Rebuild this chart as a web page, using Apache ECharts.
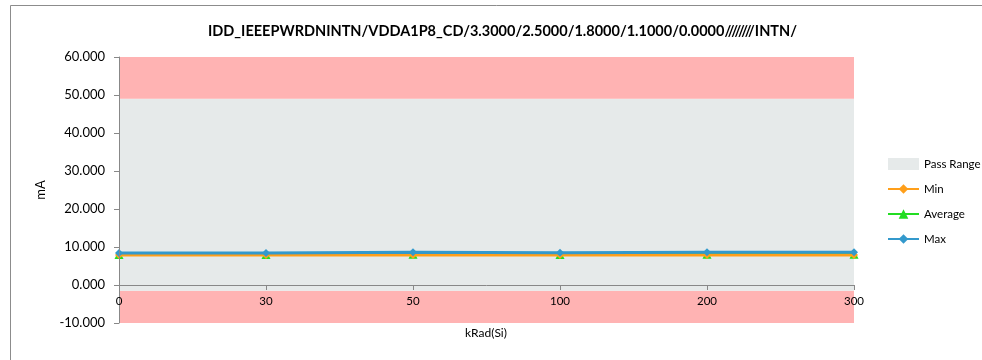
<!DOCTYPE html>
<html>
<head>
<meta charset="utf-8">
<script src="https://cdn.jsdelivr.net/npm/echarts@6/dist/echarts.min.js"></script>
<style>
  html, body { margin: 0; padding: 0; background: #fff; }
  #chart { width: 982px; height: 360px; }
</style>
</head>
<body>
<div id="chart"></div>
<script>
// Dose levels (kRad(Si)) and measured supply current (mA)
const categories = ['0', '30', '50', '100', '200', '300'];
const minValues = [7.9, 7.9, 7.9, 7.9, 7.9, 7.9];
const avgValues = [8.0, 8.0, 8.1, 8.0, 8.1, 8.1];
const maxValues = [8.4, 8.4, 8.6, 8.5, 8.6, 8.6];
// Pass limits and y-axis range
const passLow = -1.5;
const passHigh = 49.0;
const yMin = -10;
const yMax = 60;
const yStep = 10;

const titleText = 'IDD_IEEEPWRDNINTN/VDDA1P8_CD/3.3000/2.5000/1.8000/1.1000/0.0000////////INTN/';
const font = 'Lato, "Open Sans", sans-serif';

const chart = echarts.init(document.getElementById('chart'));

const lineSeries = (name, color, symbol, data, z) => ({
  name: name,
  type: 'line',
  data: data,
  symbol: symbol,
  symbolSize: symbol === 'triangle' ? 9 : 8,
  lineStyle: { color: color, width: 3 },
  itemStyle: { color: color },
  z: z
});

chart.setOption({
  animation: false,
  title: {
    text: titleText,
    left: 203,
    top: 19,
    padding: 5,
    textStyle: { fontFamily: font, fontSize: 14.5, fontWeight: 'bold', color: '#000' }
  },
  graphic: [
    {
      type: 'rect',
      shape: { x: 10.5, y: 5.5, width: 990, height: 400 },
      style: { fill: 'none', stroke: '#8c8c8c', lineWidth: 1 },
      silent: true
    },
    {
      type: 'text',
      left: 465,
      top: 327,
      style: { text: 'kRad(Si)', font: '12px ' + font, fill: '#000' }
    }
  ],
  legend: {
    orient: 'vertical',
    left: 887,
    top: 158,
    padding: 0,
    itemGap: 13,
    itemWidth: 31,
    itemHeight: 12,
    textStyle: { fontFamily: font, fontSize: 11.5, color: '#000' },
    data: [
      { name: 'Pass Range', icon: 'rect', itemStyle: { color: '#e6eaea' } },
      'Min', 'Average', 'Max'
    ]
  },
  grid: { left: 119, right: 128, top: 57, bottom: 37 },
  xAxis: [
    {
      // axis line and ticks crossing at zero
      type: 'category',
      data: categories,
      boundaryGap: false,
      z: 10,
      axisLine: { onZero: true, lineStyle: { color: '#888', width: 1 } },
      axisTick: { show: true, alignWithLabel: true, length: 5, lineStyle: { color: '#888' } },
      axisLabel: { show: false },
      splitLine: { show: false }
    },
    {
      // category labels just below the zero line
      type: 'category',
      data: categories,
      boundaryGap: false,
      position: 'bottom',
      z: 10,
      axisLine: { show: false, onZero: false },
      axisTick: { show: false },
      axisLabel: { fontFamily: font, fontSize: 11.5, color: '#000', margin: -28 },
      splitLine: { show: false }
    }
  ],
  yAxis: {
    type: 'value',
    min: yMin,
    max: yMax,
    interval: yStep,
    name: 'mA',
    nameLocation: 'middle',
    nameGap: 72,
    z: 10,
    nameTextStyle: { fontFamily: font, fontSize: 13, color: '#000' },
    axisLine: { show: true, lineStyle: { color: '#888', width: 1 } },
    axisTick: { show: true, length: 5, lineStyle: { color: '#888' } },
    axisLabel: {
      fontFamily: font, fontSize: 13, color: '#000', margin: 14,
      formatter: v => v.toFixed(3)
    },
    splitLine: { show: false }
  },
  series: [
    {
      name: 'Pass Range',
      type: 'line',
      data: [],
      itemStyle: { color: '#e6eaea' },
      z: 1,
      markArea: {
        silent: true,
        data: [
          [{ yAxis: yMin, itemStyle: { color: '#ffb3b3' } }, { yAxis: passLow }],
          [{ yAxis: passLow, itemStyle: { color: '#e6eaea' } }, { yAxis: passHigh }],
          [{ yAxis: passHigh, itemStyle: { color: '#ffb3b3' } }, { yAxis: yMax }]
        ]
      }
    },
    lineSeries('Average', '#22dd22', 'triangle', avgValues, 3),
    lineSeries('Min', '#ff9f1a', 'diamond', minValues, 4),
    lineSeries('Max', '#3399cc', 'diamond', maxValues, 5)
  ]
});
</script>
</body>
</html>
